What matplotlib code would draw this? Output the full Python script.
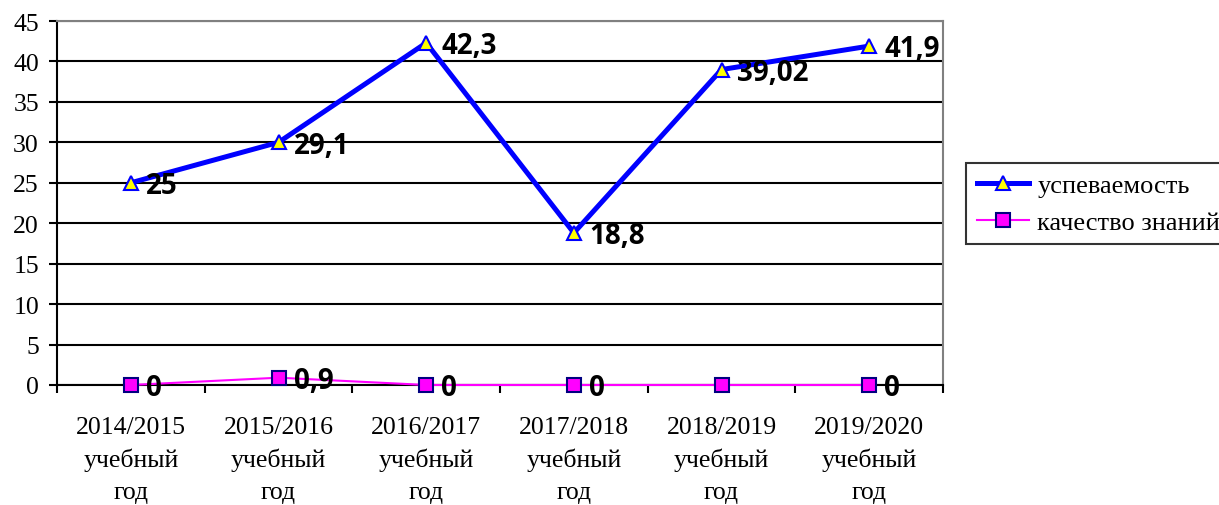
import matplotlib
matplotlib.use("Agg")
import matplotlib.pyplot as plt

# data
years = ["2014/2015\nучебный\nгод", "2015/2016\nучебный\nгод", "2016/2017\nучебный\nгод",
         "2017/2018\nучебный\nгод", "2018/2019\nучебный\nгод", "2019/2020\nучебный\nгод"]
uspev = [25, 30, 42.3, 18.8, 39, 41.9]
uspev_labels = ["25", "29,1", "42,3", "18,8", "39,02", "41,9"]
kach = [0, 0.9, 0, 0, 0, 0]
kach_labels = ["0", "0,9", "0", "0", "", "0"]

fig = plt.figure(figsize=(12.19, 5.06), dpi=100)
ax = fig.add_axes([0.0468, 0.2372, 0.7268, 0.7193])

x = list(range(len(years)))

ax.plot(x, uspev, color="#0000ff", lw=3.6, marker="^", markersize=10,
        markerfacecolor="#ffff00", markeredgecolor="#0000ff", markeredgewidth=1.5,
        label="успеваемость", zorder=4, clip_on=False)
ax.plot(x, kach, color="#ff00ff", lw=1.5, marker="s", markersize=10,
        markerfacecolor="#ff00ff", markeredgecolor="#000080", markeredgewidth=1.5,
        label="качество знаний", zorder=3, clip_on=False)

lab_font = dict(fontsize=20, fontweight="bold", family="Open Sans")
for xi, v, t in zip(x, uspev, uspev_labels):
    ax.annotate(t, (xi, v), xytext=(11, -2), textcoords="offset points",
                va="center", ha="left", zorder=5, **lab_font)
for xi, v, t in zip(x, kach, kach_labels):
    if t:
        ax.annotate(t, (xi, v), xytext=(11, -2), textcoords="offset points",
                    va="center", ha="left", zorder=5, **lab_font)

ax.set_xlim(-0.5, len(years) - 0.5)
ax.set_ylim(0, 45)
ax.set_yticks(range(0, 46, 5))
ax.set_xticks(x)
ax.set_xticklabels(years, family="Liberation Serif", fontsize=18.5, linespacing=1.55)
ax.set_xticks([i - 0.5 for i in range(len(years) + 1)], minor=True)
for lbl in ax.get_yticklabels():
    lbl.set_family("Liberation Serif")
    lbl.set_fontsize(18.5)

ax.tick_params(axis="x", which="major", length=0, pad=22)
ax.tick_params(axis="x", which="minor", length=6, width=1.5, direction="out")
ax.tick_params(axis="y", length=6, width=1.5, direction="out", pad=7)

ax.yaxis.grid(True, color="black", lw=1.5)
ax.set_axisbelow(True)
ax.spines["left"].set_linewidth(1.5)
ax.spines["bottom"].set_linewidth(1.5)
ax.spines["top"].set_color("#808080")
ax.spines["right"].set_color("#808080")
ax.spines["top"].set_linewidth(1.5)
ax.spines["right"].set_linewidth(1.5)

leg = ax.legend(loc="center left", bbox_to_anchor=(1.026, 0.498), frameon=True,
                fancybox=False, edgecolor="black",
                prop={"family": "Liberation Serif", "size": 19},
                handlelength=2.0, borderpad=0.4, labelspacing=0.5, handletextpad=0.3,
                borderaxespad=0)
leg.get_frame().set_linewidth(1.5)

fig.savefig("out.png", dpi=100)
